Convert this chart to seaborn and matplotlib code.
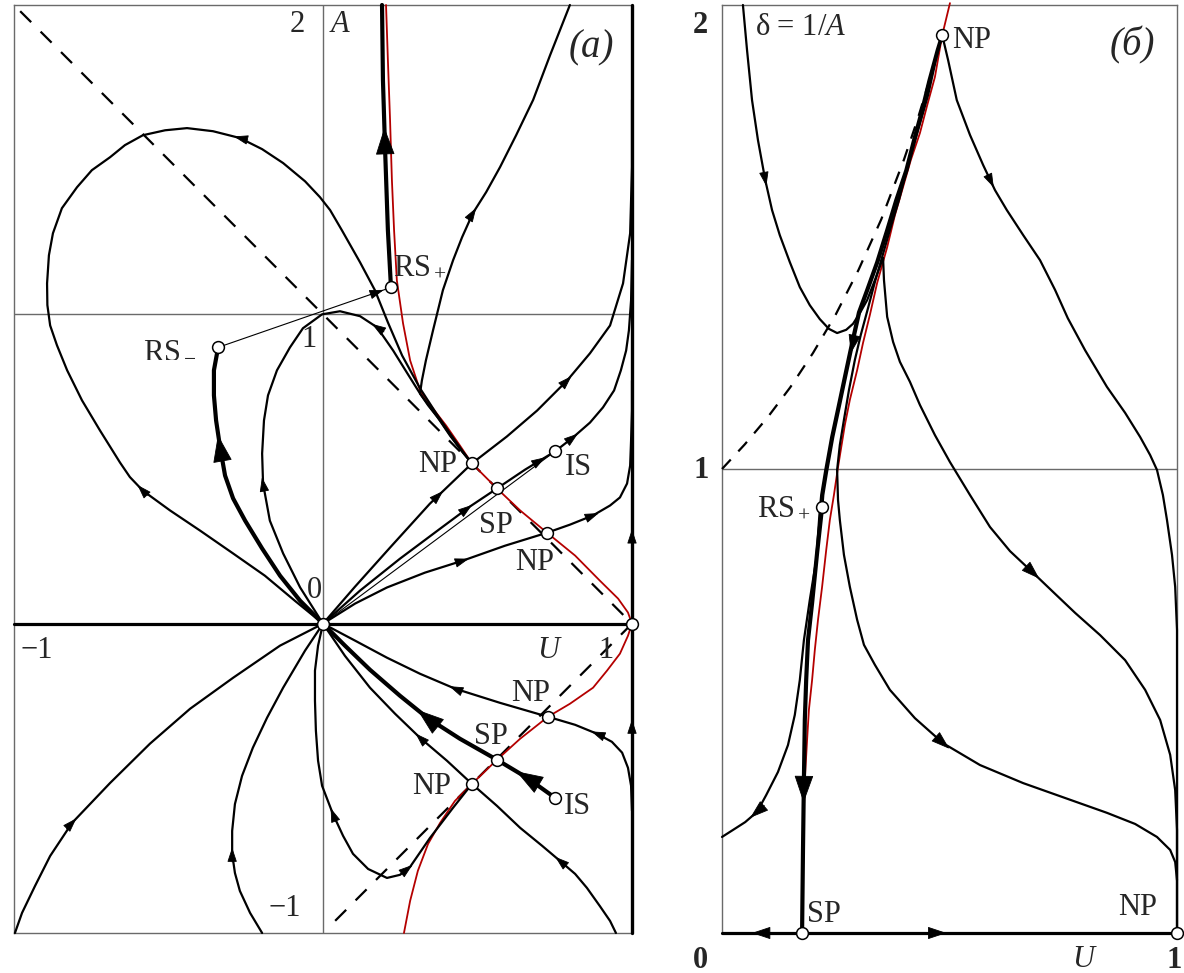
import numpy as np
import matplotlib
matplotlib.use("Agg")
import matplotlib.pyplot as plt
import seaborn as sns

sns.set_style("white")
plt.rcParams["font.family"] = ["Liberation Serif", "DejaVu Serif"]
plt.rcParams["mathtext.fontset"] = "custom"
plt.rcParams["mathtext.rm"] = "Liberation Serif"
plt.rcParams["mathtext.it"] = "Liberation Serif:italic"

# ================= panel (а): plane (U, A) =================
# singular curve (red), upper and lower branches
sing_up = [(0.204, 2.000), (0.210, 1.822), (0.217, 1.628), (0.223, 1.434), (0.230, 1.272),
           (0.239, 1.110), (0.259, 0.971), (0.282, 0.851), (0.314, 0.754), (0.353, 0.699),
           (0.398, 0.641), (0.443, 0.576), (0.482, 0.518), (0.563, 0.437), (0.638, 0.366),
           (0.725, 0.294), (0.816, 0.220), (0.896, 0.139), (0.955, 0.081), (0.987, 0.036),
           (1.000, 0.000)]
sing_dn = [(1.000, 0.000), (0.987, -0.039), (0.961, -0.097), (0.919, -0.152), (0.874, -0.207),
           (0.799, -0.259), (0.728, -0.301), (0.638, -0.372), (0.563, -0.440), (0.482, -0.518),
           (0.427, -0.573), (0.379, -0.644), (0.340, -0.712), (0.307, -0.799), (0.282, -0.896),
           (0.262, -1.000)]
# |A| = 1 - U
dash_up = [(-0.98, 1.98), (1.0, 0.0)]
dash_dn = [(1.0, 0.0), (0.01, -0.99)]

# integral curves, upper half
loop_big = [(0.000, 0.000), (-0.091, 0.074), (-0.188, 0.155), (-0.291, 0.227), (-0.398, 0.301),
            (-0.495, 0.366), (-0.583, 0.430), (-0.625, 0.474), (-0.657, 0.521), (-0.722, 0.625),
            (-0.780, 0.722), (-0.828, 0.819), (-0.861, 0.900), (-0.883, 0.964), (-0.892, 1.030),
            (-0.893, 1.100), (-0.887, 1.191), (-0.874, 1.262), (-0.845, 1.343), (-0.796, 1.411),
            (-0.748, 1.466), (-0.689, 1.508), (-0.641, 1.547), (-0.583, 1.579), (-0.511, 1.595),
            (-0.440, 1.602), (-0.356, 1.592), (-0.269, 1.570), (-0.197, 1.534), (-0.129, 1.489),
            (-0.058, 1.430), (-0.010, 1.379), (0.023, 1.337), (0.061, 1.272), (0.120, 1.168),
            (0.168, 1.078), (0.210, 0.974), (0.256, 0.867), (0.314, 0.761), (0.369, 0.676),
            (0.411, 0.615), (0.450, 0.560), (0.482, 0.518)]
loop_small = [(0.000, 0.000), (-0.074, 0.117), (-0.129, 0.227), (-0.172, 0.333), (-0.194, 0.453),
              (-0.197, 0.550), (-0.191, 0.657), (-0.178, 0.738), (-0.149, 0.819), (-0.107, 0.893),
              (-0.065, 0.955), (-0.003, 1.000), (0.055, 1.010), (0.120, 0.994), (0.175, 0.958),
              (0.227, 0.883), (0.275, 0.806), (0.314, 0.744), (0.369, 0.670), (0.411, 0.608),
              (0.450, 0.557), (0.482, 0.518)]
v_branch = [(0.799, 2.000), (0.735, 1.838), (0.680, 1.693), (0.625, 1.579), (0.573, 1.476),
            (0.528, 1.395), (0.485, 1.327), (0.450, 1.249), (0.421, 1.175), (0.388, 1.078),
            (0.356, 0.948), (0.333, 0.851), (0.320, 0.786), (0.314, 0.744), (0.340, 0.706),
            (0.379, 0.657), (0.417, 0.602), (0.453, 0.553), (0.482, 0.518)]
rs_minus_path = [(0.000, 0.000), (-0.074, 0.074), (-0.139, 0.155), (-0.197, 0.243), (-0.252, 0.333),
                 (-0.291, 0.405), (-0.317, 0.479), (-0.333, 0.570), (-0.346, 0.657), (-0.353, 0.738),
                 (-0.353, 0.819), (-0.340, 0.890)]
rs_jump = [(-0.340, 0.893), (0.220, 1.087)]
rs_plus_path = [(0.220, 1.087), (0.210, 1.272), (0.201, 1.531), (0.194, 1.757), (0.191, 2.000)]
to_np1 = [(0.000, 0.000), (0.104, 0.120), (0.217, 0.246), (0.346, 0.388), (0.482, 0.518)]
from_np1 = [(0.482, 0.518), (0.595, 0.605), (0.693, 0.689), (0.790, 0.786), (0.864, 0.874),
            (0.929, 0.964), (0.971, 1.100), (0.994, 1.262), (1.000, 1.476), (1.000, 1.693)]
to_sp1 = [(0.000, 0.000), (0.120, 0.107), (0.249, 0.210), (0.379, 0.307), (0.476, 0.379),
          (0.563, 0.437)]
sp1_to_is = [(0.563, 0.437), (0.654, 0.498), (0.751, 0.557)]
shock_up = [(0.000, 0.000), (0.751, 0.557)]
from_is = [(0.751, 0.557), (0.809, 0.602), (0.864, 0.650), (0.906, 0.699), (0.942, 0.754),
           (0.964, 0.819), (0.981, 0.883), (0.990, 0.948), (0.997, 1.045), (1.000, 1.175)]
to_np2 = [(0.000, 0.000), (0.104, 0.065), (0.207, 0.117), (0.330, 0.165), (0.453, 0.204),
          (0.589, 0.252), (0.725, 0.294)]
from_np2 = [(0.725, 0.294), (0.799, 0.320), (0.874, 0.350), (0.929, 0.382), (0.961, 0.408),
            (0.984, 0.453), (0.994, 0.511), (0.997, 0.592), (1.000, 0.689), (1.000, 0.786)]
axis_u0 = [(-1.0, 0.0), (1.0, 0.0)]
axis_u1 = [(1.0, -1.0), (1.0, 2.0)]

# integral curves, lower half
low_left = [(0.000, 0.000), (-0.139, -0.071), (-0.291, -0.175), (-0.430, -0.275), (-0.560, -0.388),
            (-0.689, -0.515), (-0.812, -0.644), (-0.883, -0.751), (-0.932, -0.848), (-0.974, -0.935),
            (-0.997, -1.000)]
low_mid = [(0.000, 0.000), (-0.058, -0.087), (-0.129, -0.207), (-0.181, -0.304), (-0.227, -0.401),
           (-0.262, -0.492), (-0.285, -0.583), (-0.294, -0.670), (-0.294, -0.744), (-0.285, -0.806),
           (-0.269, -0.864), (-0.236, -0.935), (-0.197, -1.000)]
low_loop = [(0.000, 0.000), (-0.016, -0.071), (-0.026, -0.152), (-0.026, -0.249), (-0.023, -0.346),
            (-0.016, -0.443), (-0.003, -0.524), (0.032, -0.615), (0.065, -0.686), (0.097, -0.744),
            (0.146, -0.793), (0.207, -0.822), (0.249, -0.812), (0.282, -0.786), (0.346, -0.693),
            (0.421, -0.595), (0.482, -0.518)]
to_np3 = [(0.000, 0.000), (0.104, -0.055), (0.207, -0.110), (0.314, -0.162), (0.427, -0.210),
          (0.573, -0.256), (0.728, -0.301)]
from_np3 = [(0.728, -0.301), (0.816, -0.327), (0.887, -0.356), (0.935, -0.382), (0.968, -0.417),
            (0.987, -0.466), (0.997, -0.524), (1.000, -0.605)]
to_sp2 = [(0.000, 0.000), (0.071, -0.071), (0.152, -0.149), (0.249, -0.233), (0.337, -0.304),
          (0.443, -0.372), (0.563, -0.440)]
sp2_to_is = [(0.563, -0.440), (0.660, -0.498), (0.751, -0.563)]
to_np4 = [(0.000, 0.000), (0.071, -0.104), (0.152, -0.207), (0.233, -0.291), (0.314, -0.369),
          (0.401, -0.443), (0.482, -0.518)]
from_np4 = [(0.482, -0.518), (0.563, -0.589), (0.638, -0.660), (0.709, -0.718), (0.767, -0.767),
            (0.816, -0.809), (0.854, -0.854), (0.896, -0.913), (0.929, -0.961), (0.948, -1.000)]

# singular points of panel (а)
pts_a_u = [0.0, 1.0, 0.220, -0.340, 0.482, 0.563, 0.725, 0.751, 0.728, 0.563, 0.482, 0.751]
pts_a_A = [0.0, 0.0, 1.087, 0.893, 0.518, 0.437, 0.294, 0.557, -0.301, -0.442, -0.518, -0.563]

# ================= panel (б): plane (U, δ = 1/A) =================
sing_b = [(0.501, 2.004), (0.484, 1.935), (0.468, 1.845), (0.451, 1.784), (0.435, 1.724),
          (0.415, 1.666), (0.398, 1.608), (0.380, 1.547), (0.363, 1.478), (0.341, 1.401),
          (0.325, 1.332), (0.310, 1.272), (0.297, 1.213), (0.281, 1.149), (0.270, 1.095),
          (0.255, 1.004), (0.246, 0.944), (0.237, 0.890), (0.229, 0.825), (0.220, 0.746),
          (0.211, 0.675), (0.204, 0.610), (0.198, 0.545), (0.191, 0.481), (0.187, 0.416),
          (0.182, 0.330), (0.178, 0.200), (0.176, 0.000)]
dash_b = [(0.00, 1.000), (0.05, 1.053), (0.10, 1.111), (0.15, 1.176), (0.20, 1.250),
          (0.25, 1.333), (0.30, 1.429), (0.35, 1.538), (0.40, 1.667), (0.43, 1.754), (0.455, 1.835)]
b_left = [(0.046, 2.000), (0.055, 1.903), (0.066, 1.795), (0.079, 1.709), (0.095, 1.623),
          (0.110, 1.558), (0.127, 1.504), (0.149, 1.446), (0.171, 1.392), (0.193, 1.353),
          (0.215, 1.323), (0.235, 1.302), (0.253, 1.293), (0.273, 1.300), (0.288, 1.313),
          (0.303, 1.336), (0.319, 1.364), (0.336, 1.407), (0.354, 1.455)]
b_fold = [(0.354, 1.455), (0.356, 1.407), (0.363, 1.328), (0.376, 1.274), (0.391, 1.231),
          (0.413, 1.188), (0.435, 1.138), (0.468, 1.073), (0.501, 1.015), (0.545, 0.944),
          (0.589, 0.875), (0.633, 0.823), (0.684, 0.776), (0.732, 0.731), (0.776, 0.690),
          (0.831, 0.642), (0.886, 0.588), (0.930, 0.524), (0.963, 0.459), (0.985, 0.384),
          (0.996, 0.308), (1.000, 0.222), (1.000, 0.000)]
b_np_rs = [(0.484, 1.935), (0.475, 1.903), (0.457, 1.838), (0.442, 1.774), (0.424, 1.709),
           (0.407, 1.644), (0.385, 1.580), (0.365, 1.515), (0.343, 1.446), (0.321, 1.386),
           (0.303, 1.338), (0.288, 1.272), (0.273, 1.203), (0.259, 1.138), (0.244, 1.069),
           (0.231, 0.998), (0.222, 0.944), (0.220, 0.918)]
b_rs_sp = [(0.220, 0.918), (0.209, 0.819), (0.198, 0.711), (0.189, 0.631), (0.185, 0.545),
           (0.182, 0.459), (0.180, 0.330), (0.178, 0.179), (0.176, 0.000)]
b_to_axis = [(0.482, 1.935), (0.472, 1.903), (0.454, 1.838), (0.438, 1.774), (0.420, 1.709),
             (0.403, 1.644), (0.381, 1.580), (0.361, 1.515), (0.339, 1.446), (0.317, 1.386),
             (0.299, 1.338), (0.284, 1.272), (0.269, 1.203), (0.255, 1.138), (0.240, 1.069),
             (0.227, 0.998), (0.218, 0.944), (0.214, 0.900), (0.207, 0.804), (0.193, 0.718),
             (0.180, 0.631), (0.171, 0.545), (0.160, 0.470), (0.145, 0.405), (0.123, 0.347),
             (0.097, 0.297), (0.077, 0.261), (0.051, 0.239), (0.024, 0.222), (0.000, 0.207)]
b_near_sing = [(0.484, 1.935), (0.470, 1.881), (0.453, 1.806), (0.431, 1.731), (0.409, 1.655),
               (0.389, 1.580), (0.369, 1.515), (0.352, 1.457), (0.336, 1.403), (0.321, 1.347),
               (0.305, 1.289), (0.292, 1.235), (0.279, 1.170), (0.268, 1.106), (0.259, 1.052),
               (0.253, 0.998), (0.255, 0.933), (0.259, 0.890), (0.268, 0.815), (0.281, 0.746),
               (0.297, 0.675), (0.312, 0.621), (0.336, 0.578), (0.369, 0.524), (0.424, 0.463),
               (0.486, 0.409), (0.567, 0.362), (0.662, 0.323), (0.754, 0.291), (0.846, 0.259),
               (0.908, 0.235), (0.956, 0.207), (0.985, 0.179), (0.996, 0.153), (1.000, 0.114)]
b_right = [(0.484, 1.935), (0.497, 1.881), (0.516, 1.795), (0.545, 1.720), (0.574, 1.655),
           (0.600, 1.601), (0.626, 1.558), (0.662, 1.504), (0.699, 1.450), (0.732, 1.386),
           (0.760, 1.325), (0.798, 1.256), (0.846, 1.177), (0.886, 1.121), (0.919, 1.069),
           (0.941, 1.030), (0.956, 0.998), (0.969, 0.944), (0.978, 0.890), (0.989, 0.815),
           (0.996, 0.746), (1.000, 0.653), (1.000, 0.000)]
b_axis = [(0.0, 0.0), (1.0, 0.0)]

pts_b_u = [0.484, 0.220, 0.176, 1.0]
pts_b_d = [1.935, 0.918, 0.0, 0.0]

RED = "#b40000"
GREY = "#6a6a6a"
FS = 22

fig = plt.figure(figsize=(11.84, 9.73), dpi=100)
ax_a = fig.add_axes([14 / 1184, 40 / 973, 618 / 1184, 928 / 973])
ax_b = fig.add_axes([722 / 1184, 40 / 973, 455 / 1184, 928 / 973])


def setup(ax, xl, yl):
    ax.set_xlim(*xl)
    ax.set_ylim(*yl)
    ax.set_xticks([])
    ax.set_yticks([])
    ax.set_xlabel("")
    ax.set_ylabel("")
    for s in ax.spines.values():
        s.set_color(GREY)
        s.set_linewidth(1.0)
        s.set_zorder(1)


def draw(ax, pts, lw=1.6, color="k", z=4, **kw):
    arr = np.asarray(pts, float)
    sns.lineplot(x=arr[:, 0], y=arr[:, 1], ax=ax, sort=False, estimator=None,
                 color=color, linewidth=lw, zorder=z, clip_on=False,
                 solid_capstyle="round", solid_joinstyle="round", **kw)


HEADS = {"n": (9.0, 3.0), "m": (12.0, 4.0), "b": (18.0, 6.3)}


def arrow(ax, pts, at, sign=1, size="n"):
    P = ax.transData.transform(np.asarray(pts, float))
    p = ax.transData.transform(np.asarray(at, float))
    best = None
    for i in range(len(P) - 1):
        s = P[i + 1] - P[i]
        L2 = s @ s
        if L2 == 0:
            continue
        t = np.clip((p - P[i]) @ s / L2, 0, 1)
        q = P[i] + t * s
        d = np.hypot(*(q - p))
        if best is None or d < best[0]:
            best = (d, q, s / np.sqrt(L2))
    _, q, dv = best
    dv = dv * sign
    hl, hw = HEADS[size]
    lpx = hl * fig.dpi / 72.0
    tip = q + dv * lpx / 2
    tail = tip - dv * (lpx + 2)
    inv = ax.transData.inverted()
    ax.annotate("", xy=inv.transform(tip), xytext=inv.transform(tail),
                xycoords="data", textcoords="data", annotation_clip=False,
                arrowprops=dict(arrowstyle=f"-|>,head_length={hl / 10},head_width={hw / 10}",
                                mutation_scale=10, color="k", lw=0.6,
                                shrinkA=0, shrinkB=0), zorder=6)


# ---------------- panel (а) ----------------
setup(ax_a, (-1, 1), (-1, 2))
ax_a.plot([0, 0], [-1, 2], color=GREY, lw=1.0, zorder=1)
ax_a.plot([-1, 1], [1, 1], color=GREY, lw=1.0, zorder=1)

draw(ax_a, dash_up, lw=1.6, z=2, linestyle=(0, (7.0, 6.0)))
draw(ax_a, dash_dn, lw=1.6, z=2, linestyle=(0, (7.0, 6.0)))
draw(ax_a, sing_up, lw=1.3, color=RED, z=3.5)
draw(ax_a, sing_dn, lw=1.3, color=RED, z=3.5)

for c in [loop_big, loop_small, v_branch, to_np1, from_np1, to_sp1, sp1_to_is, from_is,
          to_np2, from_np2, low_left, low_mid, low_loop, to_np3, from_np3, to_np4, from_np4]:
    draw(ax_a, c, lw=1.6)
for c in [rs_jump, shock_up]:
    draw(ax_a, c, lw=0.8)
for c in [rs_minus_path, rs_plus_path, to_sp2, sp2_to_is]:
    draw(ax_a, c, lw=3.0)
draw(ax_a, axis_u0, lw=2.3)
draw(ax_a, axis_u1, lw=2.4)
setup(ax_a, (-1, 1), (-1, 2))

arrow(ax_a, loop_big, (-0.583, 0.437), 1)
arrow(ax_a, loop_big, (-0.269, 1.570), -1)
arrow(ax_a, loop_small, (-0.194, 0.453), 1)
arrow(ax_a, loop_small, (0.175, 0.958), -1)
arrow(ax_a, rs_minus_path, (-0.333, 0.570), 1, "b")
arrow(ax_a, rs_jump, (0.178, 1.071), 1)
arrow(ax_a, rs_plus_path, (0.197, 1.563), 1, "b")
arrow(ax_a, v_branch, (0.485, 1.327), -1)
arrow(ax_a, to_np1, (0.372, 0.417), 1)
arrow(ax_a, from_np1, (0.790, 0.786), 1)
arrow(ax_a, to_sp1, (0.466, 0.372), 1)
arrow(ax_a, sp1_to_is, (0.702, 0.528), 1)
arrow(ax_a, from_is, (0.809, 0.602), 1)
arrow(ax_a, to_np2, (0.453, 0.204), 1)
arrow(ax_a, from_np2, (0.874, 0.350), 1)
arrow(ax_a, axis_u1, (1.0, 0.285), 1)
arrow(ax_a, low_left, (-0.812, -0.644), -1)
arrow(ax_a, low_mid, (-0.294, -0.744), -1)
arrow(ax_a, low_loop, (0.032, -0.615), -1)
arrow(ax_a, low_loop, (0.272, -0.790), 1)
arrow(ax_a, to_np3, (0.427, -0.210), -1)
arrow(ax_a, from_np3, (0.887, -0.356), -1)
arrow(ax_a, to_sp2, (0.337, -0.304), -1, "b")
arrow(ax_a, sp2_to_is, (0.660, -0.498), -1, "b")
arrow(ax_a, to_np4, (0.314, -0.369), -1)
arrow(ax_a, from_np4, (0.767, -0.767), -1)
arrow(ax_a, axis_u1, (1.0, -0.330), 1)

ax_a.plot(pts_a_u, pts_a_A, "o", ms=8.5, mfc="white", mec="k", mew=1.1,
          zorder=8, clip_on=False)

ta = dict(fontsize=FS, zorder=9)
ax_a.text(-0.084, 1.913, "2", ha="center", va="baseline", **ta)
ax_a.text(0.055, 1.913, "A", ha="center", va="baseline", style="italic", **ta)
ax_a.text(0.867, 1.861, "(а)", ha="center", va="center", style="italic", fontsize=28, zorder=9)
ax_a.text(0.227, 1.129, "RS$_+$", ha="left", va="baseline", **ta)
ax_a.text(-0.583, 0.861, "RS$_-$", ha="left", va="baseline", **ta)
ax_a.text(-0.045, 0.893, "1", ha="center", va="baseline", **ta)
ax_a.text(-0.029, 0.084, "0", ha="center", va="baseline", **ta)
ax_a.text(-0.926, -0.110, "\u22121", ha="center", va="baseline", **ta)
ax_a.text(-0.123, -0.945, "\u22121", ha="center", va="baseline", **ta)
ax_a.text(0.728, -0.110, "U", ha="center", va="baseline", style="italic", **ta)
ax_a.text(0.916, -0.110, "1", ha="center", va="baseline", **ta)
for (u, a, s) in [(0.372, 0.489, "NP"), (0.828, 0.479, "IS"), (0.560, 0.294, "SP"),
                  (0.686, 0.172, "NP"), (0.673, -0.249, "NP"), (0.544, -0.388, "SP"),
                  (0.350, -0.550, "NP"), (0.825, -0.615, "IS")]:
    ax_a.text(u, a, s, ha="center", va="baseline", **ta)

# ---------------- panel (б) ----------------
setup(ax_b, (0, 1), (0, 2))
ax_b.plot([0, 1], [1, 1], color=GREY, lw=1.0, zorder=1)

draw(ax_b, dash_b, lw=1.6, z=2, linestyle=(0, (5.8, 5.0)))
draw(ax_b, sing_b, lw=1.3, color=RED, z=3.5)
for c in [b_left, b_fold, b_near_sing, b_right, b_to_axis]:
    draw(ax_b, c, lw=1.6)
draw(ax_b, b_np_rs, lw=2.0)
draw(ax_b, b_rs_sp, lw=3.0)
draw(ax_b, b_axis, lw=2.3)
setup(ax_b, (0, 1), (0, 2))

arrow(ax_b, b_left, (0.095, 1.623), 1)
arrow(ax_b, b_fold, (0.684, 0.776), 1, "m")
arrow(ax_b, b_np_rs, (0.288, 1.267), 1, "m")
arrow(ax_b, b_rs_sp, (0.182, 0.308), 1, "b")
arrow(ax_b, b_to_axis, (0.077, 0.259), 1, "m")
arrow(ax_b, b_near_sing, (0.486, 0.409), 1, "m")
arrow(ax_b, b_right, (0.585, 1.616), 1)
arrow(ax_b, b_axis, (0.084, 0.0), -1, "m")
arrow(ax_b, b_axis, (0.475, 0.0), 1, "m")

ax_b.plot(pts_b_u, pts_b_d, "o", ms=8.5, mfc="white", mec="k", mew=1.1,
          zorder=8, clip_on=False)

tb = dict(fontsize=FS, zorder=9)
ax_b.text(-0.048, 1.940, "2", ha="center", va="baseline", fontweight="bold", **tb)
ax_b.text(0.073, 1.935, "δ = 1/$A$", ha="left", va="baseline", **tb)
ax_b.text(0.505, 1.907, "NP", ha="left", va="baseline", **tb)
ax_b.text(0.901, 1.912, "(б)", ha="center", va="center", style="italic", fontsize=28, zorder=9)
ax_b.text(-0.046, 0.981, "1", ha="center", va="baseline", fontweight="bold", **tb)
ax_b.text(0.077, 0.901, "RS$_+$", ha="left", va="baseline", **tb)
ax_b.text(0.187, 0.024, "SP", ha="left", va="baseline", **tb)
ax_b.text(0.870, 0.039, "NP", ha="left", va="baseline", **tb)
ax_b.text(-0.048, -0.075, "0", ha="center", va="baseline", fontweight="bold", **tb)
ax_b.text(0.793, -0.074, "U", ha="center", va="baseline", style="italic", **tb)
ax_b.text(0.993, -0.075, "1", ha="center", va="baseline", fontweight="bold", **tb)

fig.savefig("out.png", dpi=100, facecolor="white")
